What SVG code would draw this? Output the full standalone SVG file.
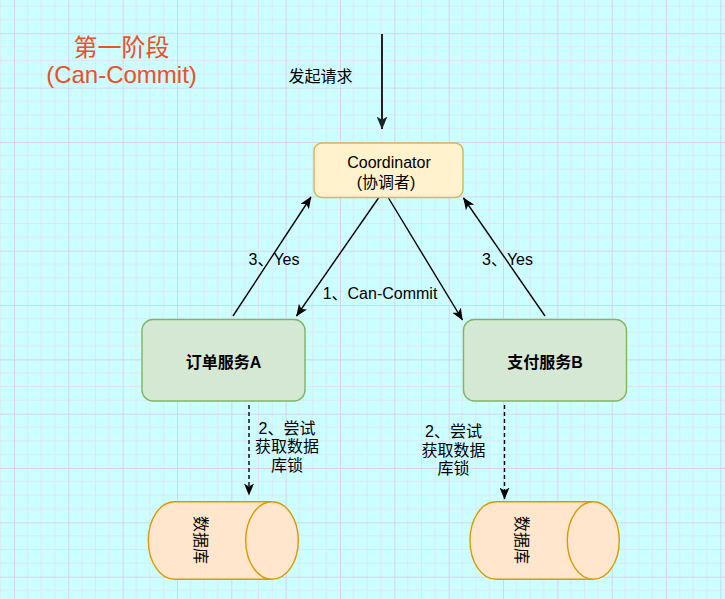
<svg xmlns="http://www.w3.org/2000/svg" width="725" height="599" viewBox="0 0 725 599">
<style>
text{font-family:"Liberation Sans","Noto Sans CJK SC",sans-serif;font-size:16px;fill:#000;text-anchor:middle}
.title{font-size:24px;fill:#ee4f27}
.bold{font-weight:bold}
.conn{fill:none;stroke:#000;stroke-width:1.4}
.dash{stroke-dasharray:4 3}
.svc{fill:#d5e8d4;stroke:#82b366;stroke-width:1.4}
.db{fill:#ffe6cc;stroke:#d79b00;stroke-width:1.4}
</style>
<defs>
<pattern id="grid" patternUnits="userSpaceOnUse" x="13.96" y="33.3" width="54.34" height="54.34">
<path d="M13.585 0V54.34M27.17 0V54.34M40.755 0V54.34M0 13.585H54.34M0 27.17H54.34M0 40.755H54.34" stroke="#dde6f6" stroke-width="1" fill="none"/>
<path d="M0.5 0V54.34M0 0.5H54.34" stroke="#d6d2f2" stroke-width="1" fill="none"/>
</pattern>
<marker id="arr" markerUnits="userSpaceOnUse" viewBox="0 0 12 10" markerWidth="12" markerHeight="10" refX="11.5" refY="5" orient="auto">
<path d="M0,0 L12,5 L0,10 L3,5 Z" fill="#000"/>
</marker>
<marker id="arrTop" markerUnits="userSpaceOnUse" viewBox="0 0 12 10" markerWidth="13" markerHeight="11" refX="11.5" refY="5" orient="auto">
<path d="M0,0 L12,5 L0,10 L3,5 Z" fill="#222"/>
</marker>
</defs>
<rect width="725" height="599" fill="#ccffff"/>
<rect width="725" height="599" fill="url(#grid)"/>

<g id="title">
<text class="title" x="121.5" y="56">第一阶段</text>
<text class="title" x="121.5" y="83">(Can-Commit)</text>
</g>

<g id="connectors">
<line x1="382" y1="34" x2="382" y2="129" stroke="#222" stroke-width="2" marker-end="url(#arrTop)"/>
<text x="320.5" y="81.5">发起请求</text>
<line class="conn" x1="233" y1="316" x2="311" y2="197" marker-end="url(#arr)"/>
<text x="274" y="265">3、Yes</text>
<line class="conn" x1="378.5" y1="198" x2="296.5" y2="316" marker-end="url(#arr)"/>
<text x="380" y="299">1、Can-Commit</text>
<line class="conn" x1="388.5" y1="198" x2="462.5" y2="320" marker-end="url(#arr)"/>
<line class="conn" x1="545" y1="316" x2="463.5" y2="198" marker-end="url(#arr)"/>
<text x="507.5" y="265">3、Yes</text>
<line class="conn dash" x1="249" y1="405" x2="249" y2="495" marker-end="url(#arr)"/>
<text x="287" y="434">2、尝试</text>
<text x="287" y="452.3">获取数据</text>
<text x="287" y="470.5">库锁</text>
<line class="conn dash" x1="504.5" y1="405" x2="504.5" y2="499" marker-end="url(#arr)"/>
<text x="453.5" y="437">2、尝试</text>
<text x="453.5" y="455.5">获取数据</text>
<text x="453.5" y="474">库锁</text>
</g>

<g id="coordinator">
<rect x="314" y="143" width="149" height="54.5" rx="8" fill="#fff2cc" stroke="#d6b656" stroke-width="1.4"/>
<text x="389" y="167.5">Coordinator</text>
<text x="386" y="187.5">(协调者)</text>
</g>

<g id="serviceA">
<rect class="svc" x="142" y="319.5" width="163" height="81.5" rx="11"/>
<text class="bold" x="223.5" y="367.5">订单服务A</text>
</g>

<g id="serviceB">
<rect class="svc" x="463.5" y="319.5" width="163" height="81.5" rx="11"/>
<text class="bold" x="545" y="367.5">支付服务B</text>
</g>

<g id="dbA">
<path class="db" d="M174.6 501.7H272A26.3 38.8 0 0 1 272 579.3H174.6A26.3 38.8 0 0 1 174.6 501.7Z"/>
<path class="db" d="M272 501.7A26.3 38.8 0 0 0 272 579.3" fill="none"/>
<text transform="translate(200 540) rotate(90)" y="5.5">数据库</text>
</g>

<g id="dbB">
<path class="db" d="M496 501.7H593.3A26 38.8 0 0 1 593.3 579.3H496A26 38.8 0 0 1 496 501.7Z"/>
<path class="db" d="M593.3 501.7A26 38.8 0 0 0 593.3 579.3" fill="none"/>
<text transform="translate(521.7 540) rotate(90)" y="5.5">数据库</text>
</g>
</svg>
